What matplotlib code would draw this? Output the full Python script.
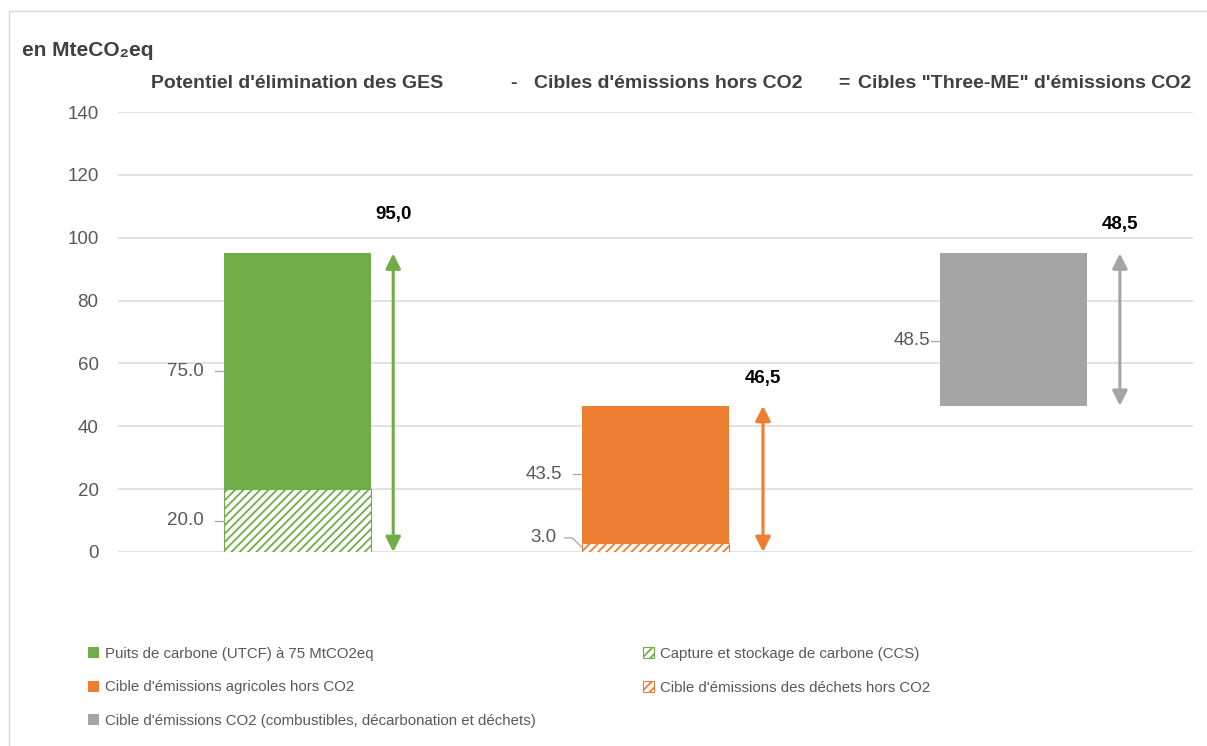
import matplotlib
matplotlib.use("Agg")
import matplotlib.pyplot as plt
from matplotlib import font_manager
from matplotlib.patches import Rectangle

# ---- data -------------------------------------------------------------
headers = ["Potentiel d'élimination des GES",
           "Cibles d'émissions hors CO2",
           "Cibles \"Three-ME\" d'émissions CO2"]
operators = ["-", "="]

# stacked segments per column (bottom segment, top segment)
ccs = 20.0            # Capture et stockage de carbone
utcf = 75.0           # Puits de carbone
dechets = 3.0         # déchets hors CO2
agricoles = 43.5      # agricoles hors CO2
co2_cible = 48.5      # cible CO2 (floating bar)
co2_base = 46.5

totals_text = ["95,0", "46,5", "48,5"]

legend_labels = ["Puits de carbone (UTCF) à 75 MtCO2eq",
                 "Capture et stockage de carbone (CCS)",
                 "Cible d'émissions agricoles hors CO2",
                 "Cible d'émissions des déchets hors CO2",
                 "Cible d'émissions CO2 (combustibles, décarbonation et déchets)"]

yticks = [0, 20, 40, 60, 80, 100, 120, 140]

# ---- style ------------------------------------------------------------
GREEN = "#70AD47"
ORANGE = "#ED7D31"
GREY = "#A5A5A5"
TXT = "#595959"
DARK = "#404040"
GRID = "#D9D9D9"

names = {f.name for f in font_manager.fontManager.ttflist}
NARROW = "Liberation Sans Narrow" if "Liberation Sans Narrow" in names else "Liberation Sans"
BASE = "Liberation Sans"
plt.rcParams["font.family"] = [BASE, "DejaVu Sans"]
plt.rcParams["hatch.linewidth"] = 1.3

W, H = 1207, 746
fig = plt.figure(figsize=(W / 100, H / 100), dpi=100)
ax = fig.add_axes([118 / W, 1 - 552 / H, (1193 - 118) / W, (552 - 112) / H])

x = [0, 1, 2]
bw = 0.41

b_utcf = ax.bar(x[0], utcf, bw, bottom=ccs, color=GREEN, lw=0, zorder=3)
b_ccs = ax.bar(x[0], ccs, bw, color="white", edgecolor=GREEN, hatch="////", lw=0.8, zorder=3)
b_agri = ax.bar(x[1], agricoles, bw, bottom=dechets, color=ORANGE, lw=0, zorder=3)
b_dech = ax.bar(x[1], dechets, bw, color="white", edgecolor=ORANGE, hatch="////", lw=0.8, zorder=3)
b_co2 = ax.bar(x[2], co2_cible, bw, bottom=co2_base, color=GREY, lw=0, zorder=3)

ax.set_xlim(-0.5, 2.5)
ax.set_ylim(0, 140)
ax.set_yticks(yticks)
ax.set_yticklabels([str(v) for v in yticks])
ax.set_xticks([])
ax.tick_params(axis="y", length=0, pad=14, labelsize=13.5, labelcolor=TXT)
ax.grid(axis="y", color=GRID, lw=1.1, zorder=0)
for s in ax.spines.values():
    s.set_visible(False)

# ---- segment labels with leader lines ---------------------------------
def seg_label(xc, bottom, value, dy=0.0, gap=0.055, bent=False):
    left = xc - bw / 2
    yc = bottom + value / 2
    ty = yc + dy
    ax.text(left - gap, ty, f"{value:.1f}", ha="right", va="center",
            fontsize=13.5, color=TXT, zorder=5)
    if not bent:
        ax.plot([left - 0.025, left], [ty, ty], color="#A6A6A6", lw=0.9, zorder=4,
                clip_on=False)
    else:
        ax.plot([left - 0.048, left - 0.028, left], [ty, ty, yc],
                color="#A6A6A6", lw=0.9, zorder=4, clip_on=False)

seg_label(x[0], ccs, utcf)
seg_label(x[0], 0, ccs)
seg_label(x[1], dechets, agricoles)
seg_label(x[1], 0, dechets, dy=3.0, gap=0.07, bent=True)
seg_label(x[2], co2_base, co2_cible, dy=-3.6, gap=0.028)

# ---- double arrows with totals ---------------------------------------
arrows = [(x[0] + 0.268, 0, ccs + utcf, GREEN, 12.5),
          (x[1] + 0.300, 0, dechets + agricoles, ORANGE, 8.8),
          (x[2] + 0.296, co2_base, co2_base + co2_cible, GREY, 9.2)]
for (ax_x, y0, y1, col, off), lab in zip(arrows, totals_text):
    ax.annotate("", xy=(ax_x, y1), xytext=(ax_x, y0),
                arrowprops=dict(arrowstyle="<|-|>,head_length=0.6,head_width=0.3",
                                color=col, lw=2.2, mutation_scale=15,
                                shrinkA=0, shrinkB=0), zorder=4)
    ax.text(ax_x, y1 + off, lab, ha="center", va="center", fontsize=13.5,
            fontweight="bold", color="black", zorder=5)

# ---- header line ------------------------------------------------------
hy = 1 + (112 - 83) / (552 - 112)
name_x = [0.0, 1.036, 2.03]
op_x = [0.603, 1.525]
for xi, t in zip(name_x, headers):
    ax.text(xi, hy, t, transform=ax.get_xaxis_transform(), ha="center", va="center",
            fontsize=14, fontweight="bold", color=DARK, family=[NARROW, "DejaVu Sans"],
            clip_on=False)
for xi, t in zip(op_x, operators):
    ax.text(xi, hy, t, transform=ax.get_xaxis_transform(), ha="center", va="center",
            fontsize=14, fontweight="bold", color=DARK, family=[NARROW, "DejaVu Sans"],
            clip_on=False)

fig.text(22 / W, 1 - 50 / H, "en MteCO₂eq", ha="left", va="center", fontsize=15,
         fontweight="bold", color=DARK, family=[NARROW, BASE, "DejaVu Sans"])

# ---- legend -----------------------------------------------------------
leg_kw = dict(loc="upper left", frameon=False, handlelength=0.72,
              handleheight=0.72, handletextpad=0.4, labelspacing=1.3, borderpad=0,
              borderaxespad=0, labelcolor=TXT,
              prop={"family": [NARROW, "DejaVu Sans"], "size": 10.8})
l1 = fig.legend([b_utcf, b_agri, b_co2],
                [legend_labels[0], legend_labels[2], legend_labels[4]],
                bbox_to_anchor=(88 / W, 1 - 647 / H), **leg_kw)
l2 = fig.legend([b_ccs, b_dech], [legend_labels[1], legend_labels[3]],
                bbox_to_anchor=(643 / W, 1 - 647 / H), **leg_kw)

# chart frame
fig.patches.append(Rectangle((9 / W, -0.01), 1.0, 1 - 11 / H + 0.01, transform=fig.transFigure,
                             fill=False, edgecolor=GRID, lw=1.0))

fig.savefig("out.png", dpi=100)
